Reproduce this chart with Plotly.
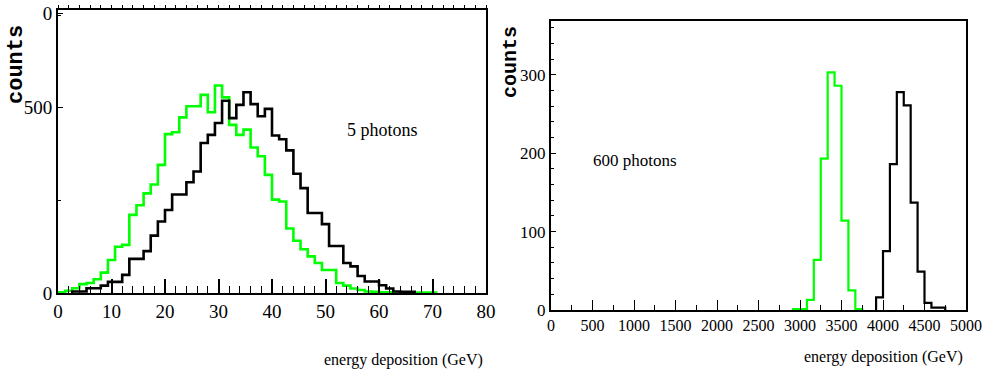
import numpy as np
import plotly.graph_objects as go

# ---- data (60 bins per panel) ----
left_range = [0, 80]
right_range = [0, 5000]
n_bins = 60

green_5 = [2, 6, 13, 24, 27, 37, 55, 89, 125, 130,
           211, 237, 269, 293, 346, 429, 434, 474, 504, 504,
           535, 488, 560, 528, 454, 427, 441, 393, 369, 319,
           252, 247, 174, 141, 118, 99, 81, 62, 62, 27,
           20, 12, 8, 4, 3, 2, 2, 1, 1, 1,
           1, 1, 1, 0, 0, 0, 0, 0, 0, 0]
black_5 = [0, 0, 4, 4, 13, 13, 20, 30, 30, 49,
           92, 92, 113, 155, 193, 224, 266, 266, 299, 328,
           405, 427, 459, 519, 472, 508, 542, 510, 477, 497,
           425, 415, 385, 322, 283, 216, 216, 186, 127, 127,
           81, 72, 46, 31, 31, 21, 12, 4, 3, 3,
           0, 0, 0, 0, 0, 0, 0, 0, 0, 0]
green_600 = [0] * 35 + [1, 1, 13, 64, 193, 303, 286, 114, 25, 1] + [0] * 15
black_600 = [0] * 47 + [16, 75, 186, 278, 261, 137, 49, 9, 3, 3] + [0] * 3

left_yticks = [0, 500, 755]
left_yticktext = ["0", "500", "0"]

W, H = 982, 379


def outline(edges, counts):
    nz = [i for i, c in enumerate(counts) if c > 0]
    i0, i1 = nz[0], nz[-1]
    x = [edges[i0]] + list(edges[i0:i1 + 2])
    y = [0] + list(counts[i0:i1 + 1]) + [0]
    return x, y


edges_l = np.linspace(left_range[0], left_range[1], n_bins + 1)
edges_r = np.linspace(right_range[0], right_range[1], n_bins + 1)

GREEN = "#00ff00"
fig = go.Figure()

for counts, col in [(green_5, GREEN), (black_5, "black")]:
    x, y = outline(edges_l, counts)
    fig.add_trace(go.Scatter(x=x, y=y, mode="lines", line=dict(color=col, width=2.6, shape="hv"),
                             xaxis="x", yaxis="y", showlegend=False, hoverinfo="skip"))
for counts, col in [(green_600, GREEN), (black_600, "black")]:
    x, y = outline(edges_r, counts)
    fig.add_trace(go.Scatter(x=x, y=y, mode="lines", line=dict(color=col, width=2.2, shape="hv"),
                             xaxis="x2", yaxis="y2", showlegend=False, hoverinfo="skip"))
# carrier for top tick axis
fig.add_trace(go.Scatter(x=[None], y=[None], xaxis="x3", yaxis="y", showlegend=False, hoverinfo="skip"))

tickfont = dict(family="Liberation Serif", size=19, color="black")

fig.update_layout(
    width=W, height=H, autosize=False,
    margin=dict(l=0, r=0, t=0, b=0, autoexpand=False),
    paper_bgcolor="white", plot_bgcolor="white",
    xaxis=dict(domain=[58 / W, 486 / W], range=left_range, anchor="y", automargin=False,
               showline=True, linecolor="black", linewidth=2, mirror=True,
               showgrid=False, zeroline=False,
               ticks="inside", ticklen=14, tickwidth=1.5, tickcolor="black",
               tickmode="linear", tick0=0, dtick=10, tickfont=tickfont,
               minor=dict(ticks="inside", ticklen=7, tickwidth=1.2, tickcolor="black",
                          tickmode="linear", tick0=0, dtick=2)),
    xaxis3=dict(overlaying="x", side="top", anchor="y", range=left_range, automargin=False,
                showline=False, showgrid=False, zeroline=False,
                ticks="outside", ticklen=4, tickwidth=1, tickcolor="black",
                tickmode="linear", tick0=0, dtick=2, showticklabels=False),
    yaxis=dict(domain=[86 / H, 369 / H], range=[0, 764], anchor="x", automargin=False,
               showline=True, linecolor="black", linewidth=2, mirror=True,
               showgrid=False, zeroline=False,
               ticks="inside", ticklen=5, tickwidth=1.2, tickcolor="black",
               tickmode="array", tickvals=left_yticks, ticktext=left_yticktext,
               tickfont=dict(family="Liberation Serif", size=19, color="black"),
               minor=dict(ticks="inside", ticklen=3, tickwidth=1, tickcolor="black",
                          tickmode="linear", tick0=0, dtick=250)),
    xaxis2=dict(domain=[551 / W, 966 / W], range=right_range, anchor="y2", automargin=False,
                showline=True, linecolor="black", linewidth=2, mirror=True,
                showgrid=False, zeroline=False,
                ticks="inside", ticklen=10, tickwidth=1.2, tickcolor="black",
                tickmode="linear", tick0=0, dtick=500,
                tickfont=dict(family="Liberation Serif", size=16, color="black"),
                minor=dict(ticks="inside", ticklen=5, tickwidth=1, tickcolor="black",
                           tickmode="linear", tick0=0, dtick=250)),
    yaxis2=dict(domain=[69 / H, 358.3 / H], range=[0, 369], anchor="x2", automargin=False,
                showline=True, linecolor="black", linewidth=2, mirror=True,
                showgrid=False, zeroline=False,
                ticks="inside", ticklen=5, tickwidth=1.2, tickcolor="black",
                tickmode="linear", tick0=0, dtick=100,
                tickfont=dict(family="Liberation Serif", size=17, color="black"),
                minor=dict(ticks="inside", ticklen=3, tickwidth=1, tickcolor="black",
                           tickmode="linear", tick0=0, dtick=20)),
)

ann_font = dict(family="Liberation Serif", size=18, color="black")
fig.add_annotation(x=60.6, y=440, xref="x", yref="y", text="5 photons", showarrow=False,
                   font=ann_font)
fig.add_annotation(x=1013, y=191, xref="x2", yref="y2", text="600 photons", showarrow=False,
                   font=dict(family="Liberation Serif", size=17, color="black"))
fig.add_annotation(x=485 / W, y=(H - 360) / H, xref="paper", yref="paper",
                   xanchor="right", yanchor="middle", text="energy deposition (GeV)",
                   showarrow=False, font=dict(family="Liberation Serif", size=16, color="black"))
fig.add_annotation(x=965 / W, y=(H - 357) / H, xref="paper", yref="paper",
                   xanchor="right", yanchor="middle", text="energy deposition (GeV)",
                   showarrow=False, font=dict(family="Liberation Serif", size=16, color="black"))
fig.add_annotation(x=17 / W, y=(H - 65) / H, xref="paper", yref="paper",
                   xanchor="center", yanchor="middle", text="counts", textangle=-90,
                   showarrow=False,
                   font=dict(family="Liberation Mono", size=22, color="black", weight=700))
fig.add_annotation(x=511 / W, y=(H - 62) / H, xref="paper", yref="paper",
                   xanchor="center", yanchor="middle", text="counts", textangle=-90,
                   showarrow=False,
                   font=dict(family="Liberation Mono", size=20, color="black", weight=700))

fig.write_html("out.html")
